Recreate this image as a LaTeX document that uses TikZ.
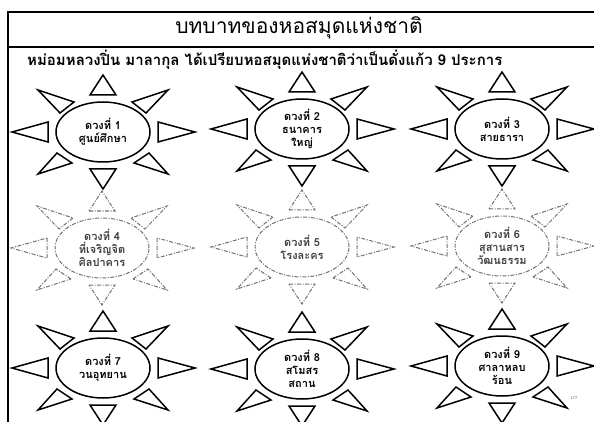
\documentclass[tikz,border=0pt]{standalone}
\usepackage{fontspec}
\newfontfamily\thai[Script=Thai]{Loma}
\usetikzlibrary{shapes.geometric}
\tikzset{
  sunsolid/.style={draw=black, line width=1.5pt, line join=miter},
  sundash/.style={draw=black!55, line width=1pt, dash pattern=on 4pt off 1.5pt on 1pt off 1.5pt},
  gem/.style={ellipse, minimum width=94pt, minimum height=60pt, inner sep=0pt, align=center,
     font=\thai\bfseries\fontsize{11}{13}\selectfont},
  frameline/.style={line width=1.3pt, draw=black}
}
\newcommand\sunrays[2]{%
  \begin{scope}[shift={(#1.center)}]
    \draw[#2] (-13,-37) -- (13,-37) -- (0,-57) -- cycle;
    \draw[#2] (-13,37) -- (13,37) -- (0,57) -- cycle;
    \draw[#2] (55,-10) -- (55,10) -- (92,0) -- cycle;
    \draw[#2] (-55,-10) -- (-55,10) -- (-91,0) -- cycle;
    \draw[#2] (29,-30) -- (43,-19) -- (65,-42) -- cycle;
    \draw[#2] (-29,-30) -- (-43,-19) -- (-65,-42) -- cycle;
    \draw[#2] (31,31) -- (46,21) -- (65,42) -- cycle;
    \draw[#2] (-31,31) -- (-46,21) -- (-65,42) -- cycle;
  \end{scope}}
\begin{document}
\begin{tikzpicture}[x=1pt,y=-1pt]
  \useasboundingbox[fill=white] (0,0) rectangle (594,422);
  \clip (0,0) rectangle (594,422);
  % frame
  \coordinate (ftl) at (8,12);
  \coordinate (ftr) at (594,12);
  \coordinate (fml) at (8,47);
  \coordinate (fmr) at (594,47);
  \coordinate (fbl) at (8,422);
  \draw[frameline] (ftr) -- (ftl) -- (fbl);
  \draw[frameline] (fml) -- (fmr);
  % titles
  \node[font=\thai\fontsize{21}{24}\selectfont, anchor=center] (title) at (299,28) {บทบาทของหอสมุดแห่งชาติ};
  \node[font=\thai\bfseries\fontsize{15}{17}\selectfont, anchor=west, inner sep=0pt] (sub) at (27,60)
     {หม่อมหลวงปิ่น มาลากุล ได้เปรียบหอสมุดแห่งชาติว่าเป็นดั่งแก้ว 9 ประการ};
  % row 1
  \node[gem, draw=black, line width=1.5pt] (s1) at (103,132) {ดวงที่ 1\\ศูนย์ศึกษา};
  \node[gem, draw=black, line width=1.5pt] (s2) at (302,129) {ดวงที่ 2\\ธนาคาร\\ใหญ่};
  \node[gem, draw=black, line width=1.5pt] (s3) at (502,129) {ดวงที่ 3\\สายธารา};
  % row 2
  \node[gem, sundash, text=black!75] (s4) at (102,248) {ดวงที่ 4\\ที่เจริญจิต\\ศิลปาคาร};
  \node[gem, sundash, text=black!75] (s5) at (302,247) {ดวงที่ 5\\โรงละคร};
  \node[gem, sundash, text=black!75] (s6) at (502,246) {ดวงที่ 6\\สุสานสาร\\วัฒนธรรม};
  % row 3
  \node[gem, draw=black, line width=1.5pt] (s7) at (103,368) {ดวงที่ 7\\วนอุทยาน};
  \node[gem, draw=black, line width=1.5pt] (s8) at (302,369) {ดวงที่ 8\\สโมสร\\สถาน};
  \node[gem, draw=black, line width=1.5pt] (s9) at (502,366) {ดวงที่ 9\\ศาลาหลบ\\ร้อน};
  % rays
  \sunrays{s1}{sunsolid}
  \sunrays{s2}{sunsolid}
  \sunrays{s3}{sunsolid}
  \sunrays{s4}{sundash}
  \sunrays{s5}{sundash}
  \sunrays{s6}{sundash}
  \sunrays{s7}{sunsolid}
  \sunrays{s8}{sunsolid}
  \sunrays{s9}{sunsolid}
  % page number
  \node[font=\sffamily\fontsize{4}{5}\selectfont, text=black!70, inner sep=0pt] (pg) at (574,398) {177};
\end{tikzpicture}
\end{document}
